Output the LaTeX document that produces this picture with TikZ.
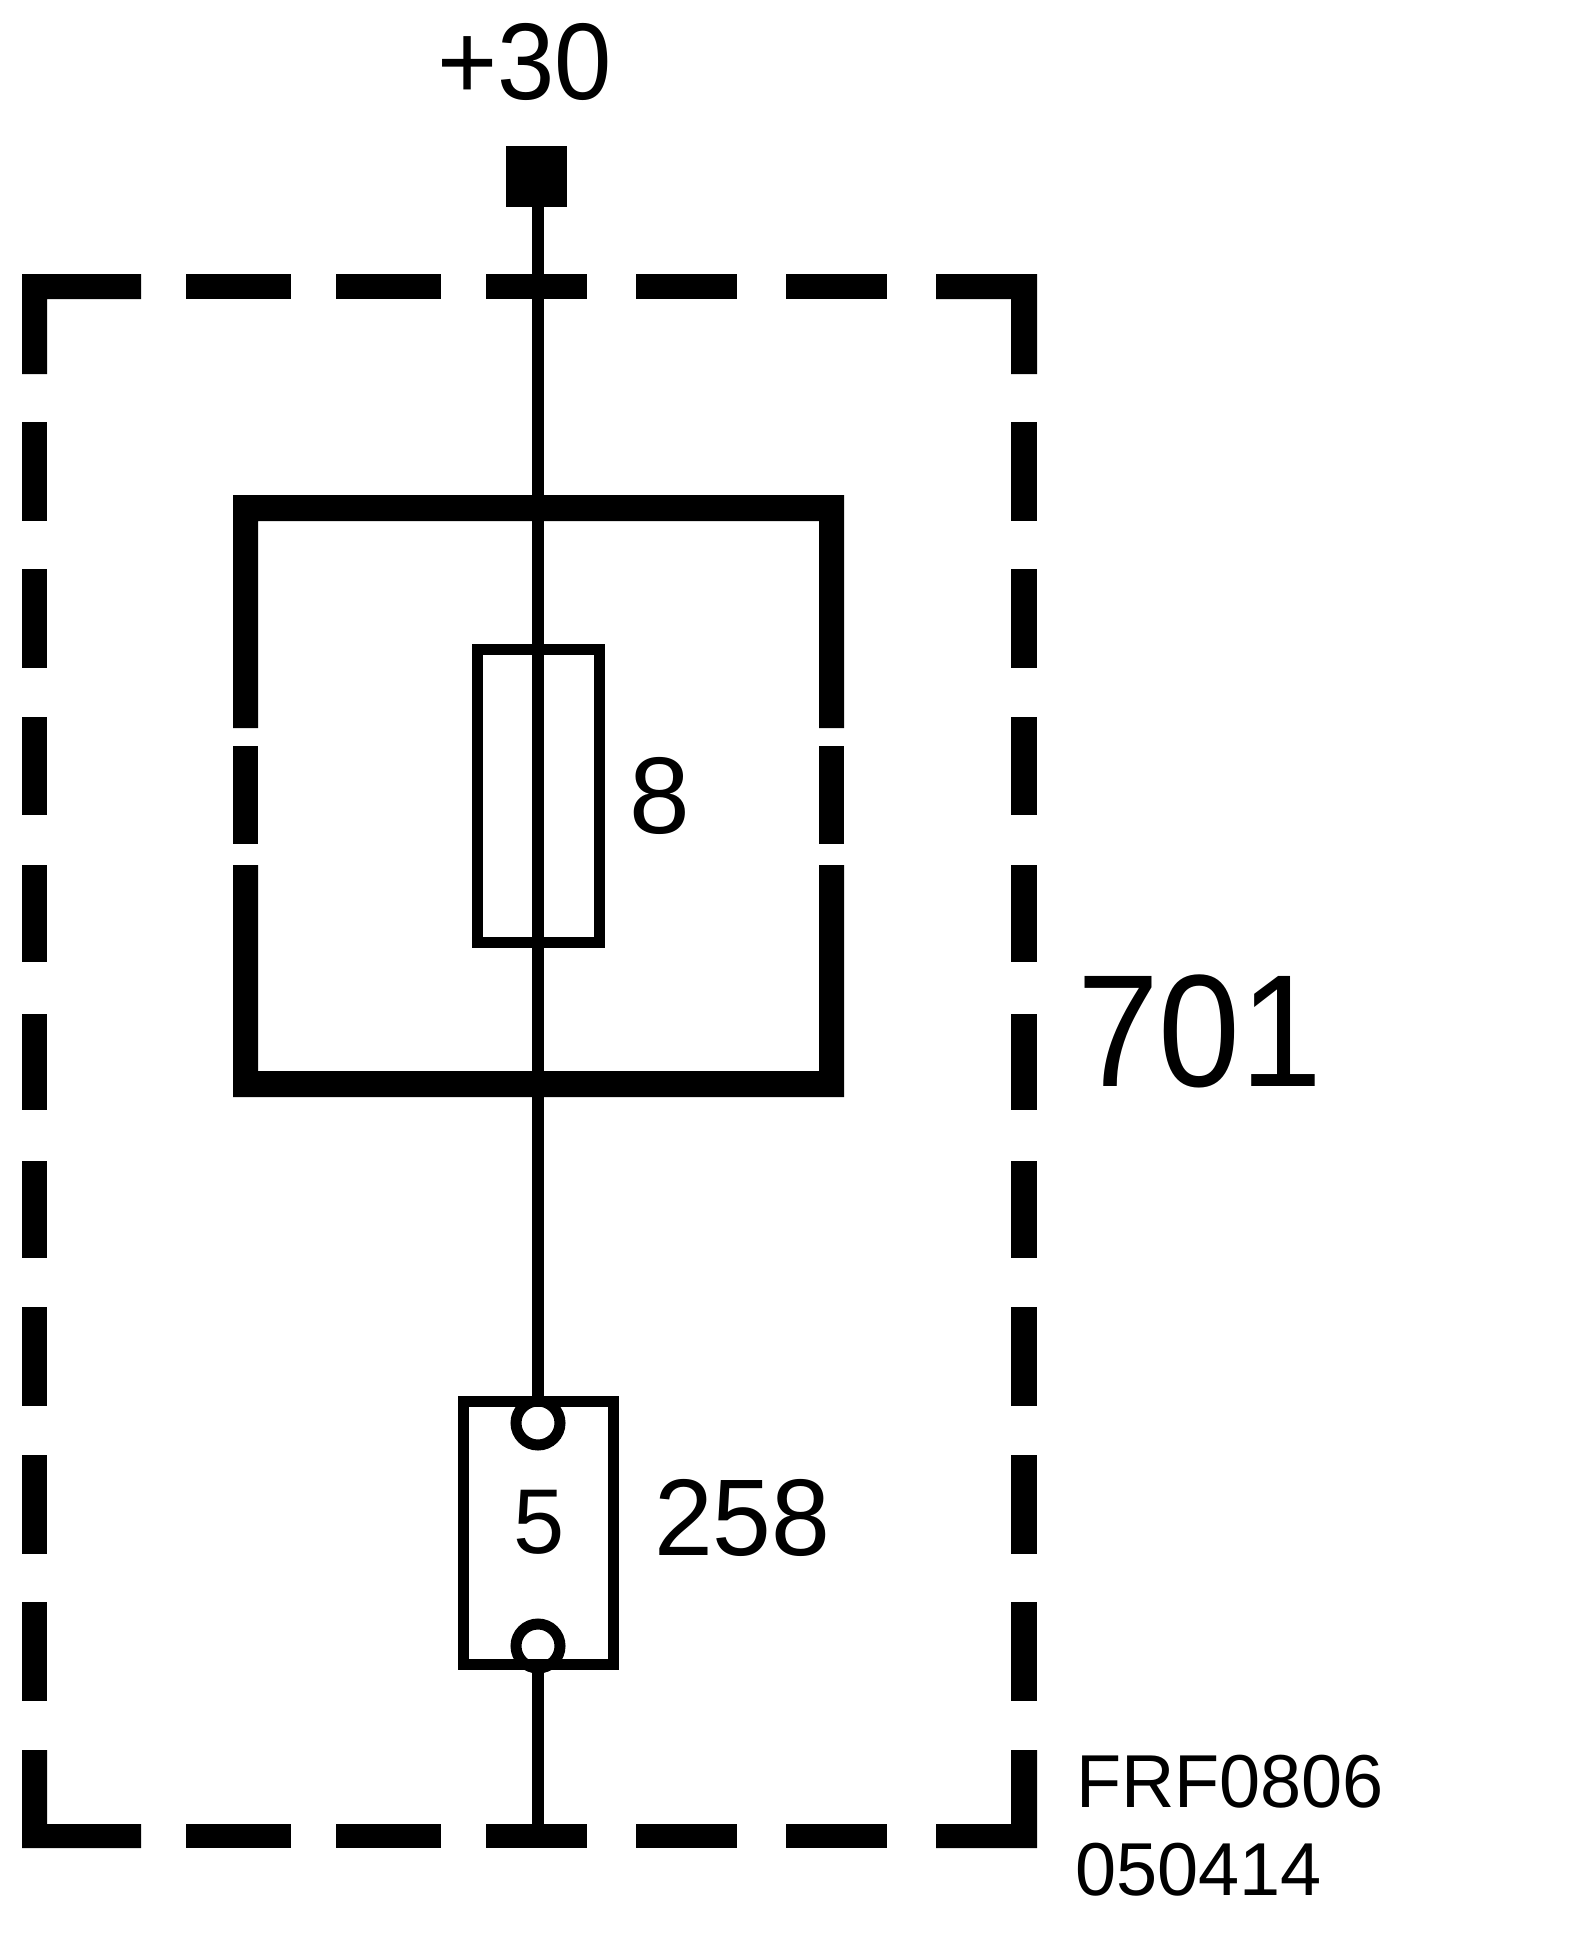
\documentclass[tikz,border=0pt]{standalone}
\usepackage{fontspec}
\setmainfont{Liberation Sans}
\newcommand{\fsz}[1]{\fontsize{#1}{#1}\selectfont}
\tikzset{
  lbl/.style={inner sep=0pt,outer sep=0pt,anchor=base west,text=black},
  wire/.style={draw=black,line width=6pt},
  box/.style={draw=black,line width=5.5pt,fill=none,rectangle,inner sep=0pt,outer sep=0pt},
  pin/.style={draw=black,line width=5.5pt,fill=none,circle,inner sep=0pt,outer sep=0pt,minimum size=22pt},
  term/.style={fill=black,rectangle,inner sep=0pt,outer sep=0pt,minimum size=30.5pt},
  heavy/.style={fill=black}
}
\begin{document}
\begin{tikzpicture}[x=0.5pt,y=-0.5pt]
\useasboundingbox (0,0) rectangle (1584,1960);
\fill[white] (0,0) rectangle (1584,1960);
% outer dashed frame
\fill[heavy] (22,374) -- (22,274) -- (141,274) -- (141,299) -- (47,299) -- (47,374) -- cycle;
\fill[heavy] (936,274) -- (1037,274) -- (1037,374) -- (1011,374) -- (1011,299) -- (936,299) -- cycle;
\fill[heavy] (22,1750) -- (22,1848) -- (141,1848) -- (141,1824) -- (47,1824) -- (47,1750) -- cycle;
\fill[heavy] (936,1848) -- (1037,1848) -- (1037,1750) -- (1011,1750) -- (1011,1824) -- (936,1824) -- cycle;
\foreach \a/\b in {186/291,336/441,486/587,636/737,786/887}{
  \fill[heavy] (\a,274) rectangle (\b,299);
  \fill[heavy] (\a,1824) rectangle (\b,1848);
}
\foreach \a/\b in {422/521,569/668,717/815,865/962,1014/1110,1161/1258,1307/1406,1455/1554,1602/1701}{
  \fill[heavy] (22,\a) rectangle (47,\b);
  \fill[heavy] (1011,\a) rectangle (1037,\b);
}
% inner heavy frame
\fill[heavy] (233,728) -- (233,495) -- (844,495) -- (844,728) -- (819,728) -- (819,521) -- (258,521) -- (258,728) -- cycle;
\fill[heavy] (233,865) -- (233,1097) -- (844,1097) -- (844,865) -- (819,865) -- (819,1071) -- (258,1071) -- (258,865) -- cycle;
\fill[heavy] (233,746) rectangle (258,844);
\fill[heavy] (819,746) rectangle (844,844);
% components
\node[term] (t30) at (536.5,176.5) {};
\node[box,minimum width=61pt,minimum height=146.5pt] (fuse) at (538.5,795.5) {};
\node[box,minimum width=75pt,minimum height=131.5pt] (conn) at (538,1532.5) {};
\node[pin] (pinA) at (538,1423) {};
\node[pin] (pinB) at (538,1646) {};
\coordinate (gnd) at (538,1830);
\coordinate (wt) at (538,207);
\draw[wire] (wt) -- (conn.north);
\draw[wire] (conn.south) -- (gnd);
% labels
\node[lbl,font=\fsz{54.5}] (l30) at (437,99) {\scalebox{0.945}[1]{+30}};
\node[lbl,font=\fsz{54.5}] (l8) at (629,833) {8};
\node[lbl,font=\fsz{80}] (l701) at (1077,1086) {\scalebox{0.92}[1]{701}};
\node[lbl,font=\fsz{54.5}] (l258) at (654,1555) {\scalebox{0.97}[1]{258}};
\node[lbl,font=\fsz{46}] (l5) at (513,1553) {5};
\node[lbl,font=\fsz{37.5}] (lfrf) at (1076,1807) {\scalebox{0.985}[1]{FRF0806}};
\node[lbl,font=\fsz{37.5}] (ldate) at (1075,1895) {\scalebox{0.985}[1]{050414}};
\end{tikzpicture}
\end{document}
